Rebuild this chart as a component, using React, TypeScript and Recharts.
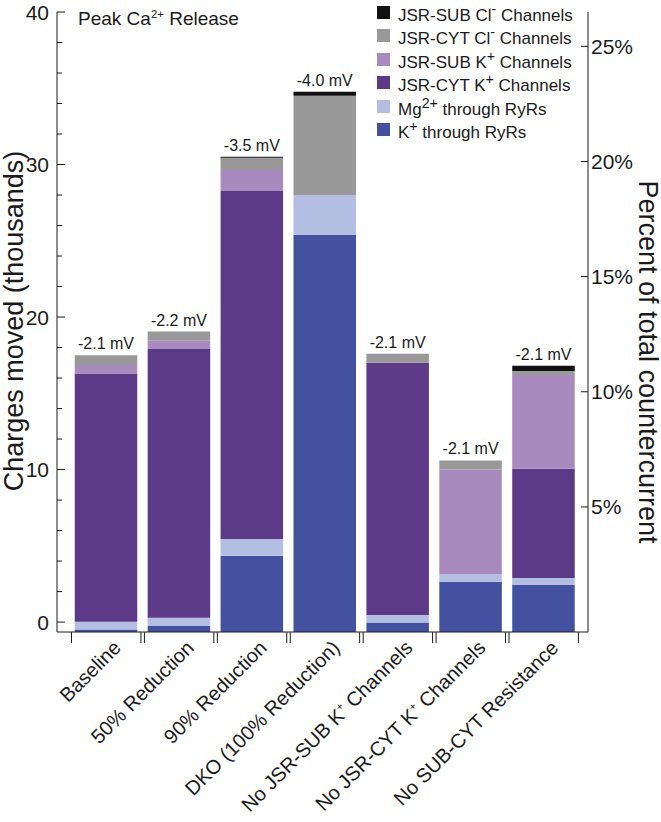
import { BarChart, Bar, XAxis, YAxis, LabelList } from 'recharts'

const categories = [
    'Baseline',
    '50% Reduction',
    '90% Reduction',
    'DKO (100% Reduction)',
    'No JSR-SUB K+ Channels',
    'No JSR-CYT K+ Channels',
    'No SUB-CYT Resistance',
]

// thousands of charges, stacked bottom to top
const kThroughRyr = [0.17, 0.39, 5.0, 26.05, 0.63, 3.29, 3.08]
const mgThroughRyr = [0.5, 0.54, 1.09, 2.6, 0.48, 0.51, 0.46]
const jsrCytK = [16.28, 17.62, 22.82, 0, 16.54, 0, 7.16]
const jsrSubK = [0.55, 0.55, 1.38, 0, 0, 6.86, 6.15]
const jsrCytCl = [0.65, 0.6, 0.81, 6.51, 0.6, 0.59, 0.27]
const jsrSubCl = [0, 0, 0.06, 0.26, 0, 0, 0.33]

const potentials = ['-2.1 mV', '-2.2 mV', '-3.5 mV', '-4.0 mV', '-2.1 mV', '-2.1 mV', '-2.1 mV']

const leftTicks = [0, 2, 4, 6, 8, 10, 12, 14, 16, 18, 20, 22, 24, 26, 28, 30, 32, 34, 36, 38, 40]
const pctTicks = [5, 10, 15, 20, 25]

const TOTAL_COUNTERCURRENT = 151 // thousands -> 100%
const AXIS_FLOOR = -0.65 // axis runs a bit below zero, bars start at the floor
const AXIS_TOP = 40

const data = categories.map((name, i) => ({
    name,
    kRyr: kThroughRyr[i],
    mgRyr: mgThroughRyr[i],
    cytK: jsrCytK[i],
    subK: jsrSubK[i],
    cytCl: jsrCytCl[i],
    subCl: jsrSubCl[i],
}))

const series = [
    { key: 'kRyr', color: '#4451a0', values: kThroughRyr },
    { key: 'mgRyr', color: '#b4bee3', values: mgThroughRyr },
    { key: 'cytK', color: '#5c3a87', values: jsrCytK },
    { key: 'subK', color: '#a88abf', values: jsrSubK },
    { key: 'cytCl', color: '#999999', values: jsrCytCl },
    { key: 'subCl', color: '#111111', values: jsrSubCl },
]

// index of the highest non-empty segment in each bar, the mV label sits on it
const topSeries = categories.map((_, i) => {
    let top = 0
    series.forEach((s, si) => {
        if (s.values[i] > 0) top = si
    })
    return top
})

const legendItems = [
    { color: '#111111', label: <>JSR-SUB Cl<sup>-</sup> Channels</> },
    { color: '#999999', label: <>JSR-CYT Cl<sup>-</sup> Channels</> },
    { color: '#a88abf', label: <>JSR-SUB K<sup>+</sup> Channels</> },
    { color: '#5c3a87', label: <>JSR-CYT K<sup>+</sup> Channels</> },
    { color: '#b4bee3', label: <>Mg<sup>2+</sup> through RyRs</> },
    { color: '#4451a0', label: <>K<sup>+</sup> through RyRs</> },
]

const FONT = '"Liberation Sans", Arial, Helvetica, sans-serif'
const INK = '#1a1a1a'
const supStyle = { fontSize: '0.6em', verticalAlign: '0.6em', lineHeight: 0 }

function withSuperscripts(label: string) {
    const parts = label.split('K+')
    if (parts.length === 1) return label
    return (
        <>
            {parts[0]}K
            <tspan dy={-8} fontSize={11}>+</tspan>
            <tspan dy={8}>{parts[1]}</tspan>
        </>
    )
}

function CategoryTick({ x, y, payload }: any) {
    const edge = 34.7
    return (
        <g>
            <line x1={x - edge} x2={x - edge} y1={y} y2={y + 11} stroke={INK} strokeWidth={1} />
            <line x1={x + edge} x2={x + edge} y1={y} y2={y + 11} stroke={INK} strokeWidth={1} />
            <text
                x={x + 16}
                y={y + 17}
                transform={`rotate(-45 ${x + 16} ${y + 17})`}
                textAnchor="end"
                fontSize={20}
                fontFamily={FONT}
                fill={INK}
            >
                {withSuperscripts(payload.value)}
            </text>
        </g>
    )
}

function LeftTick({ x, y, payload }: any) {
    const major = payload.value % 10 === 0
    return (
        <g>
            <line x1={x} x2={x + (major ? 8 : 5)} y1={y} y2={y} stroke={INK} strokeWidth={1} />
            {major && (
                <text x={x - 8} y={y} dy="0.36em" textAnchor="end" fontSize={21} fontFamily={FONT} fill={INK}>
                    {payload.value}
                </text>
            )}
        </g>
    )
}

function RightTick({ x, y, payload }: any) {
    return (
        <g>
            <line x1={x} x2={x - 7} y1={y} y2={y} stroke={INK} strokeWidth={1} />
            <text x={x + 3} y={y} dy="0.36em" textAnchor="start" fontSize={21} fontFamily={FONT} fill={INK}>
                {payload.value}%
            </text>
        </g>
    )
}

// LabelList reads the category name, so the label knows which bar it is on
function potentialLabel(seriesIndex: number) {
    return (props: any) => {
        const { x, y, width, value } = props
        const ci = categories.indexOf(value)
        if (ci < 0 || topSeries[ci] !== seriesIndex) return null
        return (
            <text
                x={Number(x) + Number(width) / 2}
                y={Number(y) - 6}
                textAnchor="middle"
                fontSize={16}
                fontFamily={FONT}
                fill={INK}
            >
                {potentials[ci]}
            </text>
        )
    }
}

const titleStyle = {
    position: 'absolute' as const,
    fontSize: 27,
    lineHeight: 1,
    whiteSpace: 'nowrap' as const,
}

export default function App() {
    return (
        <div style={{ position: 'relative', width: 661, height: 822, fontFamily: FONT, color: INK }}>
            <style>{'body { margin: 0 }'}</style>
            <BarChart width={661} height={822} data={data} margin={{ top: 12, right: 0, bottom: 0, left: 0 }}>
                <XAxis
                    dataKey="name"
                    interval={0}
                    height={190}
                    padding={{ left: 12.75, right: 7.85 }}
                    tickSize={0}
                    tickMargin={0}
                    tickLine={false}
                    tick={<CategoryTick />}
                    axisLine={{ stroke: INK }}
                />
                <YAxis
                    yAxisId="left"
                    type="number"
                    width={57}
                    domain={[AXIS_FLOOR, AXIS_TOP]}
                    allowDataOverflow
                    ticks={leftTicks}
                    interval={0}
                    tickSize={0}
                    tickMargin={0}
                    tickLine={false}
                    tick={<LeftTick />}
                    axisLine={{ stroke: INK }}
                />
                <YAxis
                    yAxisId="pct"
                    orientation="right"
                    type="number"
                    width={73}
                    domain={[(AXIS_FLOOR / TOTAL_COUNTERCURRENT) * 100, (AXIS_TOP / TOTAL_COUNTERCURRENT) * 100]}
                    allowDataOverflow
                    ticks={pctTicks}
                    interval={0}
                    tickSize={0}
                    tickMargin={0}
                    tickLine={false}
                    tick={<RightTick />}
                    axisLine={{ stroke: INK }}
                />
                <YAxis
                    yAxisId="bars"
                    hide
                    width={0}
                    type="number"
                    domain={[0, AXIS_TOP - AXIS_FLOOR]}
                    allowDataOverflow
                />
                {series.map((s, i) => (
                    <Bar
                        key={s.key}
                        dataKey={s.key}
                        yAxisId="bars"
                        stackId="charges"
                        fill={s.color}
                        barSize={62.5}
                        isAnimationActive={false}
                    >
                        <LabelList dataKey="name" content={potentialLabel(i)} />
                    </Bar>
                ))}
            </BarChart>

            <div style={{ ...titleStyle, left: 14, top: 321, transform: 'translate(-50%, -50%) rotate(-90deg)' }}>
                Charges moved (thousands)
            </div>
            <div style={{ ...titleStyle, left: 647, top: 362, transform: 'translate(-50%, -50%) rotate(90deg)' }}>
                Percent of total countercurrent
            </div>

            <div style={{ position: 'absolute', left: 78, top: 8, fontSize: 19, whiteSpace: 'nowrap' }}>
                Peak Ca<sup style={supStyle}>2+</sup> Release
            </div>

            <div style={{ position: 'absolute', left: 377, top: 0.5, fontSize: 17 }}>
                {legendItems.map((item, i) => (
                    <div key={i} style={{ height: 23.5, display: 'flex', alignItems: 'center', whiteSpace: 'nowrap' }}>
                        <span style={{ width: 13, height: 13, background: item.color, marginRight: 8, flex: 'none' }} />
                        <span style={{ lineHeight: '18px' }}>{item.label}</span>
                    </div>
                ))}
            </div>
        </div>
    )
}
